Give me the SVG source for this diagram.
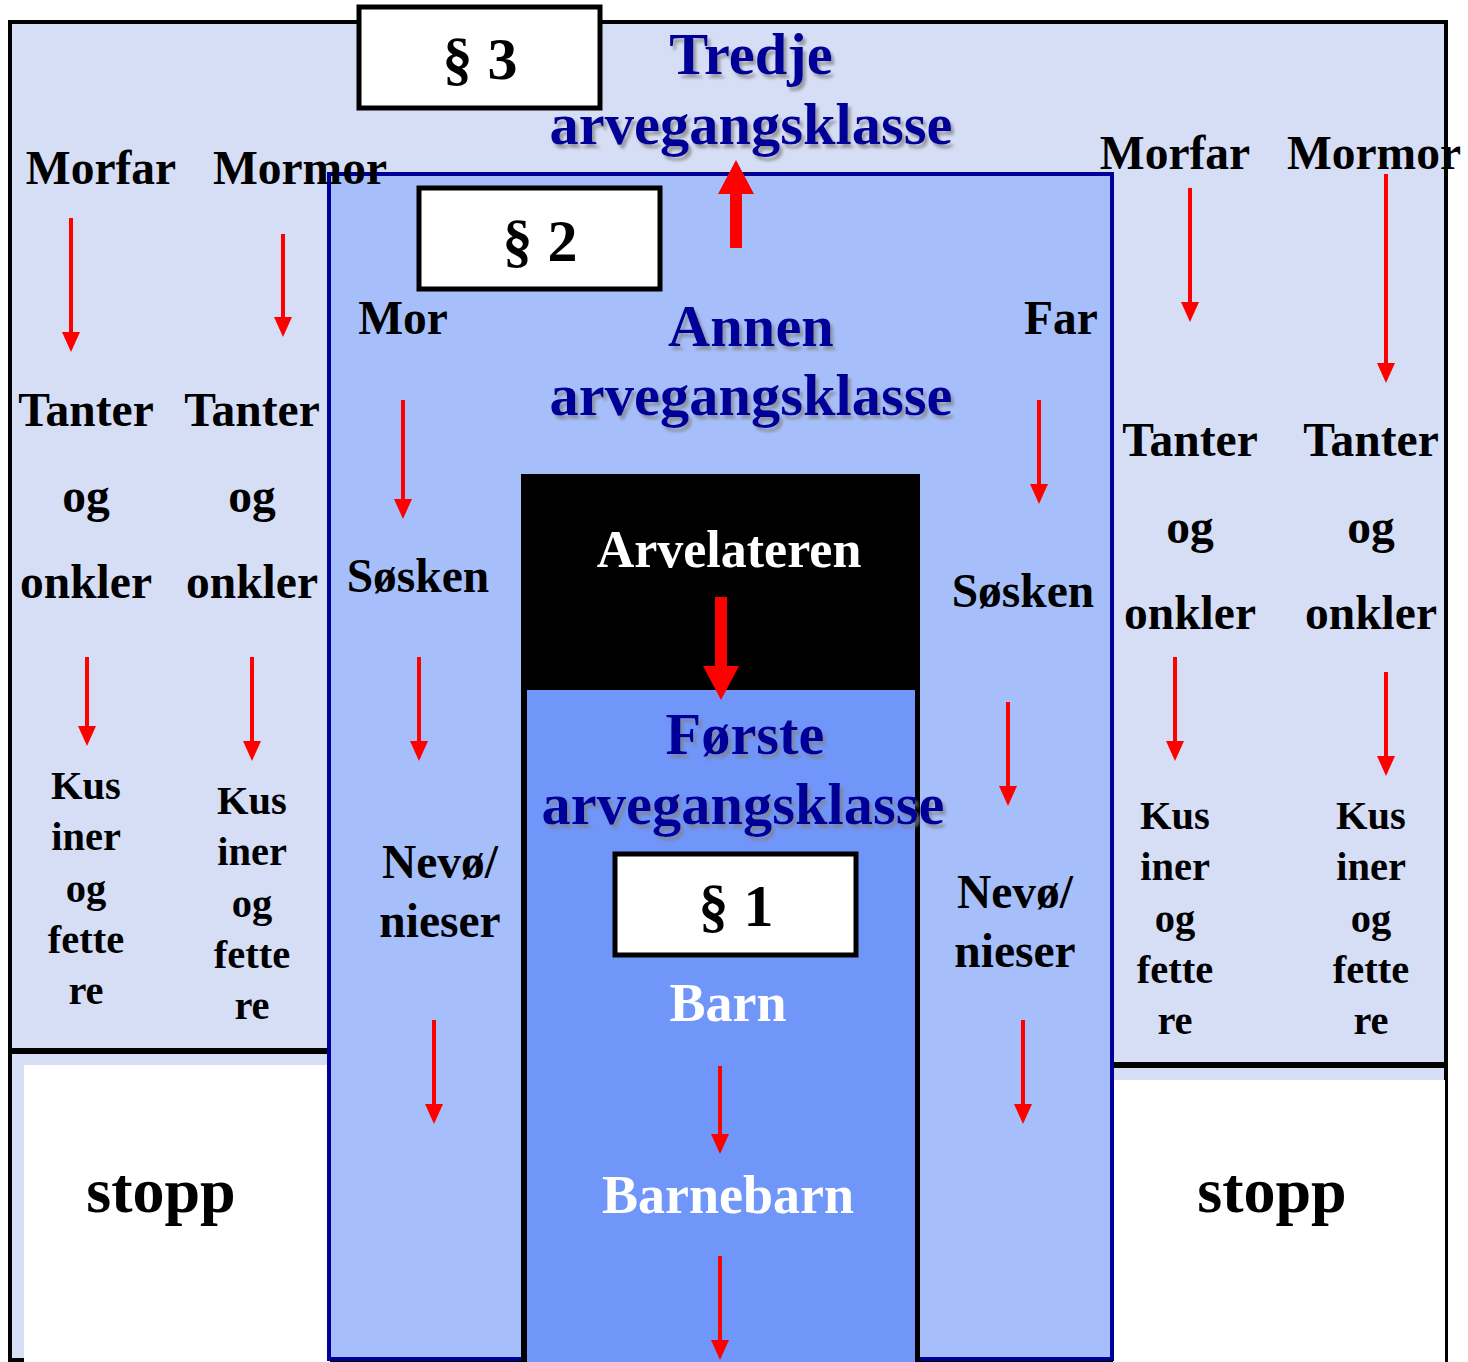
<svg xmlns="http://www.w3.org/2000/svg" width="1468" height="1362" viewBox="0 0 1468 1362">
<style>
text{font-family:"Liberation Serif","Times New Roman",serif;font-weight:bold;text-anchor:middle}
.k{fill:#000;font-size:47.5px}
.ks{fill:#000;font-size:40.5px}
.t{fill:#000099;font-size:58.5px;filter:url(#sh)}
.w{fill:#fff;font-size:54px}
.p{fill:#000;font-size:60px}
.s{fill:#000;font-size:64px}
.box{fill:#fff;stroke:#000;stroke-width:5}
.a{stroke:#f00;stroke-width:4;fill:none}
</style>
<defs>
<filter id="sh" x="-10%" y="-10%" width="130%" height="140%">
<feDropShadow dx="3" dy="4" stdDeviation="1.5" flood-color="#808080" flood-opacity="0.7"/>
</filter>
<marker id="h" markerUnits="userSpaceOnUse" markerWidth="20" markerHeight="18" refX="0" refY="9" orient="auto" viewBox="0 0 20 18">
<path d="M0,0 L20,9 L0,18 Z" fill="#f00"/>
</marker>
</defs>
<rect width="1468" height="1362" fill="#fff"/>
<g id="klasse3">
<rect x="10" y="22" width="1436" height="1338" fill="#D6DEF6" stroke="#000" stroke-width="4"/>
<line x1="10" y1="1051" x2="330" y2="1051" stroke="#000" stroke-width="6"/>
<rect x="24" y="1065" width="306" height="297" fill="#fff"/>
<line x1="1113" y1="1065" x2="1446" y2="1065" stroke="#000" stroke-width="6"/>
<rect x="1113" y="1080" width="333" height="282" fill="#fff"/>
<line x1="1446" y1="1060" x2="1446" y2="1362" stroke="#000" stroke-width="2"/>
</g>
<g id="klasse2">
<rect x="329" y="174" width="783" height="1185" fill="#A6BFFB" stroke="#000099" stroke-width="4"/>
</g>
<g id="arvelateren">
<rect x="521" y="474" width="399" height="888" fill="#000"/>
<rect x="527" y="690" width="388" height="672" fill="#7096FA"/>
</g>
<g id="p3"><rect class="box" x="359" y="7" width="241" height="101"/><text class="p" x="480" y="79">§ 3</text></g>
<g id="p2"><rect class="box" x="419" y="188" width="241" height="101"/><text class="p" x="540" y="261">§ 2</text></g>
<g id="p1"><rect class="box" x="615" y="854" width="241" height="101"/><text class="p" x="736" y="926">§ 1</text></g>
<g id="titler">
<text class="t" x="751" y="74">Tredje</text>
<text class="t" x="751" y="144">arvegangsklasse</text>
<text class="t" x="751" y="346">Annen</text>
<text class="t" x="751" y="415">arvegangsklasse</text>
<text class="t" x="745" y="754">Første</text>
<text class="t" x="743" y="824">arvegangsklasse</text>
</g>
<g id="arvelateren-tekst">
<text class="w" x="729" y="567" style="font-size:52px">Arvelateren</text>
<text class="w" x="728" y="1021">Barn</text>
<text class="w" x="728" y="1213">Barnebarn</text>
</g>
<g id="venstre3">
<text class="k" x="101" y="184">Morfar</text>
<text class="k" x="300" y="184">Mormor</text>
<text class="k" x="86" y="426">Tanter</text>
<text class="k" x="86" y="512">og</text>
<text class="k" x="86" y="598">onkler</text>
<text class="k" x="252" y="426">Tanter</text>
<text class="k" x="252" y="512">og</text>
<text class="k" x="252" y="598">onkler</text>
<text class="ks" x="86" y="799">Kus</text>
<text class="ks" x="86" y="850">iner</text>
<text class="ks" x="86" y="902">og</text>
<text class="ks" x="86" y="953">fette</text>
<text class="ks" x="86" y="1004">re</text>
<text class="ks" x="252" y="814">Kus</text>
<text class="ks" x="252" y="865">iner</text>
<text class="ks" x="252" y="917">og</text>
<text class="ks" x="252" y="968">fette</text>
<text class="ks" x="252" y="1019">re</text>
<text class="s" x="161" y="1212">stopp</text>
</g>
<g id="hoyre3">
<text class="k" x="1175" y="169">Morfar</text>
<text class="k" x="1374" y="169">Mormor</text>
<text class="k" x="1190" y="456">Tanter</text>
<text class="k" x="1190" y="543">og</text>
<text class="k" x="1190" y="629">onkler</text>
<text class="k" x="1371" y="456">Tanter</text>
<text class="k" x="1371" y="543">og</text>
<text class="k" x="1371" y="629">onkler</text>
<text class="ks" x="1175" y="829">Kus</text>
<text class="ks" x="1175" y="880">iner</text>
<text class="ks" x="1175" y="932">og</text>
<text class="ks" x="1175" y="983">fette</text>
<text class="ks" x="1175" y="1034">re</text>
<text class="ks" x="1371" y="829">Kus</text>
<text class="ks" x="1371" y="880">iner</text>
<text class="ks" x="1371" y="932">og</text>
<text class="ks" x="1371" y="983">fette</text>
<text class="ks" x="1371" y="1034">re</text>
<text class="s" x="1272" y="1212">stopp</text>
</g>
<g id="venstre2">
<text class="k" x="403" y="334">Mor</text>
<text class="k" x="418" y="592">Søsken</text>
<text class="k" x="440" y="878">Nevø/</text>
<text class="k" x="440" y="937">nieser</text>
</g>
<g id="hoyre2">
<text class="k" x="1061" y="334">Far</text>
<text class="k" x="1023" y="607">Søsken</text>
<text class="k" x="1015" y="908">Nevø/</text>
<text class="k" x="1015" y="967">nieser</text>
</g>
<g id="connectors">
<line class="a" x1="71" y1="218" x2="71" y2="332" marker-end="url(#h)"/>
<line class="a" x1="283" y1="234" x2="283" y2="317" marker-end="url(#h)"/>
<line class="a" x1="1190" y1="188" x2="1190" y2="302" marker-end="url(#h)"/>
<line class="a" x1="1386" y1="174" x2="1386" y2="363" marker-end="url(#h)"/>
<line class="a" x1="87" y1="657" x2="87" y2="726" marker-end="url(#h)"/>
<line class="a" x1="252" y1="657" x2="252" y2="741" marker-end="url(#h)"/>
<line class="a" x1="1175" y1="657" x2="1175" y2="741" marker-end="url(#h)"/>
<line class="a" x1="1386" y1="672" x2="1386" y2="756" marker-end="url(#h)"/>
<line class="a" x1="403" y1="400" x2="403" y2="499" marker-end="url(#h)"/>
<line class="a" x1="1039" y1="400" x2="1039" y2="484" marker-end="url(#h)"/>
<line class="a" x1="419" y1="657" x2="419" y2="741" marker-end="url(#h)"/>
<line class="a" x1="1008" y1="702" x2="1008" y2="786" marker-end="url(#h)"/>
<line class="a" x1="434" y1="1020" x2="434" y2="1104" marker-end="url(#h)"/>
<line class="a" x1="1023" y1="1020" x2="1023" y2="1104" marker-end="url(#h)"/>
<line class="a" x1="720" y1="1066" x2="720" y2="1134" marker-end="url(#h)"/>
<line class="a" x1="720" y1="1256" x2="720" y2="1340" marker-end="url(#h)"/>
<path d="M730,248 L730,194 L718,194 L736,160 L754,194 L742,194 L742,248 Z" fill="#f00"/>
<path d="M715,597 L727,597 L727,666 L739,666 L721,700 L703,666 L715,666 Z" fill="#f00"/>
</g>
</svg>
